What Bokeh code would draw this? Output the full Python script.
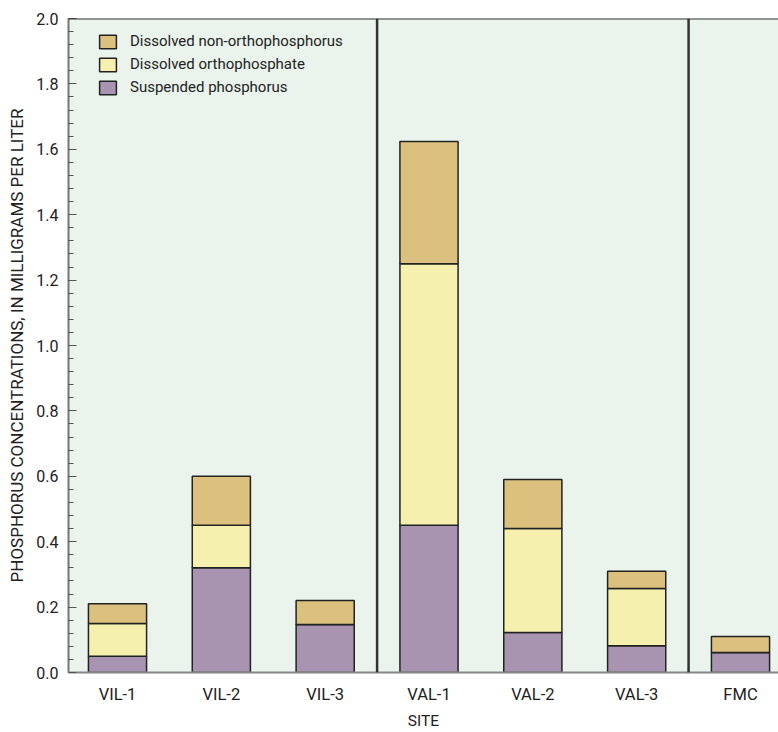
from bokeh.plotting import figure
from bokeh.models import Span, SingleIntervalTicker, Legend, LegendItem, ColumnDataSource, Range1d, NumeralTickFormatter
from bokeh.embed import file_html
from bokeh.resources import INLINE

sites = ["VIL-1", "VIL-2", "VIL-3", "VAL-1", "VAL-2", "VAL-3", "FMC"]
suspended = [0.05, 0.32, 0.147, 0.45, 0.122, 0.082, 0.061]
ortho = [0.10, 0.13, 0.0, 0.80, 0.318, 0.175, 0.0]
nonortho = [0.06, 0.15, 0.073, 0.374, 0.15, 0.053, 0.049]
group_breaks = [2.5, 5.5]

FONT = "Roboto"
x = list(range(len(sites)))
src = ColumnDataSource(dict(x=x, suspended=suspended, ortho=ortho, nonortho=nonortho))

p = figure(width=778, height=732, output_backend="svg", toolbar_location=None,
           x_range=Range1d(-0.472, 6.366), y_range=Range1d(0, 2.0),
           min_border_left=68, min_border_top=18, min_border_right=0, min_border_bottom=58)
p.background_fill_color = "#EAF4EC"
p.border_fill_color = "white"
p.outline_line_color = None
p.grid.visible = False

stack = ["suspended", "ortho", "nonortho"]
colors = ["#A893B0", "#F5F0AE", "#DBC07E"]
rs = p.vbar_stack(stack, x="x", width=0.56, source=src, color=colors,
                  line_color="#222222", line_width=1.5)

for xb in group_breaks:
    p.add_layout(Span(location=xb, dimension="height", line_color="#333333", line_width=2.5))
p.add_layout(Span(location=2.0, dimension="width", line_color="#333333", line_width=2))

yax = p.yaxis[0]
yax.ticker = SingleIntervalTicker(interval=0.2, num_minor_ticks=5)
yax.formatter = NumeralTickFormatter(format="0.0")
yax.major_tick_in = 8
yax.major_tick_out = 0
yax.minor_tick_in = 5
yax.minor_tick_out = 0
yax.axis_line_color = "#777777"
yax.axis_line_width = 2
yax.major_tick_line_color = "#555555"
yax.minor_tick_line_color = "#555555"
yax.major_label_text_font = FONT
yax.major_label_text_font_size = "16px"
yax.major_label_text_color = "#222222"
yax.major_label_standoff = 10
yax.axis_label = "PHOSPHORUS CONCENTRATIONS, IN MILLIGRAMS PER LITER"
yax.axis_label_text_font = FONT
yax.axis_label_text_font_size = "17px"
yax.axis_label_text_font_style = "normal"
yax.axis_label_text_color = "#222222"
yax.axis_label_standoff = 6

xax = p.xaxis[0]
xax.ticker = x
xax.major_label_overrides = {i: s for i, s in enumerate(sites)}
xax.major_tick_line_color = None
xax.minor_tick_line_color = None
xax.axis_line_color = "#888888"
xax.axis_line_width = 2
xax.major_label_text_font = FONT
xax.major_label_text_font_size = "16.5px"
xax.major_label_text_color = "#222222"
xax.major_label_standoff = 6
xax.axis_label = "SITE"
xax.axis_label_text_font = FONT
xax.axis_label_text_font_size = "15.5px"
xax.axis_label_text_font_style = "normal"
xax.axis_label_text_color = "#222222"
xax.axis_label_standoff = 5

labels = ["Suspended phosphorus", "Dissolved orthophosphate", "Dissolved non-orthophosphorus"]
items = [LegendItem(label=labels[i], renderers=[rs[i]]) for i in [2, 1, 0]]
legend = Legend(items=items, location=(29, 576), background_fill_alpha=0,
                border_line_color=None, glyph_width=21, glyph_height=17,
                spacing=5, label_standoff=12, padding=0, margin=0, label_height=17,
                label_text_font=FONT, label_text_font_size="15px", label_text_color="#222222")
p.add_layout(legend)

open("out.html", "w").write(file_html(p, INLINE))
